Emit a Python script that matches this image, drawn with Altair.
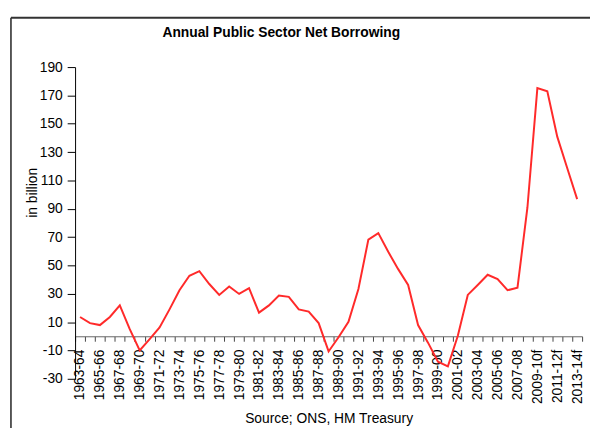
import json
import altair as alt
import pandas as pd

# ---- data ----
years = [
    "1963-64", "1964-65", "1965-66", "1966-67", "1967-68", "1968-69", "1969-70",
    "1970-71", "1971-72", "1972-73", "1973-74", "1974-75", "1975-76", "1976-77",
    "1977-78", "1978-79", "1979-80", "1980-81", "1981-82", "1982-83", "1983-84",
    "1984-85", "1985-86", "1986-87", "1987-88", "1988-89", "1989-90", "1990-91",
    "1991-92", "1992-93", "1993-94", "1994-95", "1995-96", "1996-97", "1997-98",
    "1998-99", "1999-00", "2000-01", "2001-02", "2002-03", "2003-04", "2004-05",
    "2005-06", "2006-07", "2007-08", "2008-09", "2009-10f", "2010-11f", "2011-12f",
    "2012-13f", "2013-14f",
]
borrowing = [
    13.6, 9.3, 7.9, 13.6, 21.8, 5.0, -10.0,
    -2.0, 6.2, 19.0, 32.5, 42.7, 46.0, 36.9,
    29.2, 35.2, 29.9, 33.9, 16.7, 21.8, 28.8,
    27.8, 19.0, 17.4, 9.3, -10.7, -0.7, 10.2,
    33.4, 68.2, 72.8, 59.6, 47.4, 36.2, 7.9,
    -4.5, -17.9, -21.2, 0.4, 29.2, 36.2, 43.4,
    40.4, 32.5, 34.3, 90.9, 175.2, 172.9, 140.9,
    118.8, 96.8,
]
y_ticks = [-30, -10, 10, 30, 50, 70, 90, 110, 130, 150, 170, 190]
shown_labels = years[::2]

title_text = "Annual Public Sector Net Borrowing"
y_title = "in billion"
x_title = "Source; ONS, HM Treasury"

df = pd.DataFrame({"year": years, "psnb": borrowing})

W, H = 514, 316
PAD = {"left": 68, "top": 57, "right": 8, "bottom": 47}
FONT = "Liberation Sans"
ymin, ymax = y_ticks[0], y_ticks[-1]
zero_offset = -H * (0 - ymin) / (ymax - ymin)

label_expr = "indexof(" + json.dumps(shown_labels) + ", datum.value) >= 0 ? datum.value : ''"

line = alt.Chart(df).mark_line(color="#FF2A2A", strokeWidth=2).encode(
    x=alt.X(
        "year:N",
        sort=years,
        bandPosition=0.5,
        scale=alt.Scale(type="band", paddingInner=0, paddingOuter=0),
        axis=alt.Axis(
            title=x_title,
            offset=zero_offset,
            labelAngle=270,
            labelExpr=label_expr,
            labelOverlap=False,
            tickBand="extent",
            tickSize=5,
            labelPadding=8,
            domainColor="#666666",
            tickColor="#444444",
            labelColor="black",
            labelFont=FONT,
            labelFontSize=14,
            titleFont=FONT,
            titleFontSize=14,
            titleFontWeight="normal",
            titleColor="black",
            titleX=W / 2,
            titleY=87,
            titleAlign="center",
            titleBaseline="alphabetic",
            grid=False,
        ),
    ),
    y=alt.Y(
        "psnb:Q",
        scale=alt.Scale(domain=[ymin, ymax], nice=False, zero=False),
        axis=alt.Axis(
            values=y_ticks,
            labelExpr="'' + datum.value",
            title=y_title,
            tickSize=8,
            labelPadding=5,
            domainColor="black",
            tickColor="black",
            labelColor="black",
            labelFont=FONT,
            labelFontSize=14,
            titleFont=FONT,
            titleFontSize=14,
            titleFontWeight="normal",
            titleColor="black",
            titleAngle=270,
            titleX=-39,
            titleY=127,
            titleAlign="center",
            titleBaseline="alphabetic",
            grid=False,
        ),
    ),
)

frame_df = pd.DataFrame({"k": [0]})
left_border = alt.Chart(frame_df).mark_rule(color="#222222", strokeWidth=1.5).encode(
    x=alt.value(-65), y=alt.value(-50), y2=alt.value(H + 60)
)
top_border = alt.Chart(frame_df).mark_rule(color="#333333", strokeWidth=2).encode(
    x=alt.value(-65), x2=alt.value(W + 10), y=alt.value(-50)
)
title = alt.Chart(pd.DataFrame({"t": [title_text]})).mark_text(
    font=FONT, fontSize=14, fontWeight="bold", align="center", baseline="alphabetic", color="black"
).encode(text="t:N", x=alt.value(209), y=alt.value(-30))

chart = (
    alt.layer(line, left_border, top_border, title)
    .properties(
        width=W,
        height=H,
        autosize=alt.AutoSizeParams(type="none"),
        padding=PAD,
        background="white",
    )
    .configure_view(stroke="transparent")
)

chart.save("out.html", embed_options={"renderer": "svg", "actions": False})
